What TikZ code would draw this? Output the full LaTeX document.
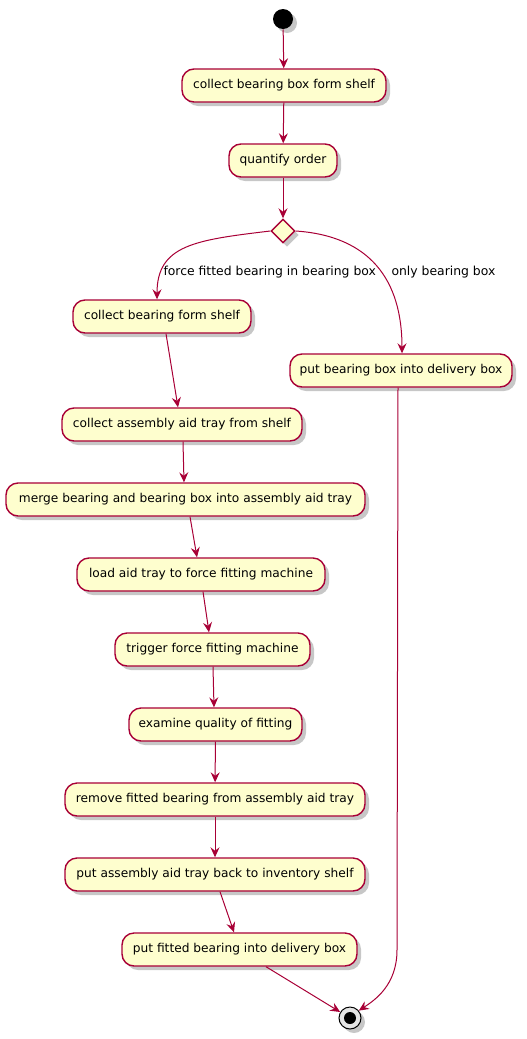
\documentclass[tikz,border=0pt]{standalone}
\usepackage{fontspec}
\setmainfont{DejaVu Sans}
\usetikzlibrary{shapes,arrows.meta,shadows,positioning}
\definecolor{umlred}{HTML}{A80036}
\definecolor{umlfill}{HTML}{FEFECE}
\tikzset{
    -{Stealth[length=10pt,width=9pt,inset=3.5pt]},x=1pt,y=-1pt,
    umlshadow/.style={drop shadow={shadow xshift=4pt,shadow yshift=-4pt,fill=black,opacity=0.22}},
    activity/.style ={rectangle, rounded corners=12pt, draw=umlred, fill=umlfill, line width=1.4pt,
        minimum height=33pt, inner xsep=0pt, text=black, font=\fontsize{12.2}{14}\selectfont, umlshadow},
    decision/.style={diamond, draw=umlred, fill=umlfill, line width=1.4pt, minimum width=24pt,
        minimum height=24pt, inner sep=0pt, umlshadow},
    start/.style={circle, fill=black, draw=none, minimum size=20pt, inner sep=0pt, umlshadow},
    stop/.style={circle, draw=black, fill=gray!20, line width=1pt, minimum size=22pt, inner sep=0pt,
        umlshadow, path picture={\fill[black] (path picture bounding box.center) circle (6pt);}},
    el/.style = {inner sep=0pt, anchor=west, text=black, font=\fontsize{12.4}{14}\selectfont}
}
\begin{document}
\begin{tikzpicture}[umlred, line width=1pt]
    \useasboundingbox (0,0) rectangle (527,1039);
    \node[start] (s) at (283,19) {};
    \node[activity, minimum width=204pt] (b1) at (284,85.5) {collect bearing box form shelf};
    \node[activity, minimum width=108pt] (b2) at (283,160.5) {quantify order};
    \node[decision] (d) at (283,231) {};
    \node[activity, minimum width=178pt] (b3) at (162,316.5) {collect bearing form shelf};
    \node[activity, minimum width=222pt] (b4) at (401,370.5) {put bearing box into delivery box};
    \node[activity, minimum width=240pt] (b5) at (182,424.5) {collect assembly aid tray from shelf};
    \node[activity, minimum width=359pt] (b6) at (185.5,499.5) {merge bearing and bearing box into assembly aid tray};
    \node[activity, minimum width=248pt] (b7) at (201,574.5) {load aid tray to force fitting machine};
    \node[activity, minimum width=195pt] (b8) at (212.5,649.5) {trigger force fitting machine};
    \node[activity, minimum width=173pt] (b9) at (215.5,724.5) {examine quality of fitting};
    \node[activity, minimum width=300pt] (b10) at (215,799.5) {remove fitted bearing from assembly aid tray};
    \node[activity, minimum width=300pt] (b11) at (215,874.5) {put assembly aid tray back to inventory shelf};
    \node[activity, minimum width=235pt] (b12) at (239.5,949.5) {put fitted bearing into delivery box};
    \node[stop] (e) at (350,1018) {};
    \coordinate (bend) at (397,950);

    \node[el] (l1) at (163,272) {force fitted bearing in bearing box};
    \node[el] (l2) at (391,272) {only bearing box};

    \path (s) edge (b1);
    \path (b1) edge (b2);
    \path (b2) edge (d);
    \draw (d.west) .. controls (195,240) and (157,245) .. ([xshift=-5pt]b3.north);
    \draw (d.east) .. controls (370,236) and (402,280) .. ([xshift=1pt]b4.north);
    \path ([xshift=4pt]b3.south) edge ([xshift=-4pt]b5.north);
    \path ([xshift=1pt]b5.south) edge ([xshift=-1.5pt]b6.north);
    \path ([xshift=4.5pt]b6.south) edge ([xshift=-4pt]b7.north);
    \path ([xshift=2pt]b7.south) edge ([xshift=-3.5pt]b8.north);
    \path ([xshift=0.5pt]b8.south) edge ([xshift=-1.5pt]b9.north);
    \path (b9) edge (b10);
    \path (b10) edge (b11);
    \path ([xshift=5pt]b11.south) edge ([xshift=-5.5pt]b12.north);
    \path ([xshift=26.5pt]b12.south) edge (e);
    \draw ([xshift=-3pt]b4.south) -- (bend) .. controls (397,985) and (375,1000) .. (e.40);
\end{tikzpicture}
\end{document}
